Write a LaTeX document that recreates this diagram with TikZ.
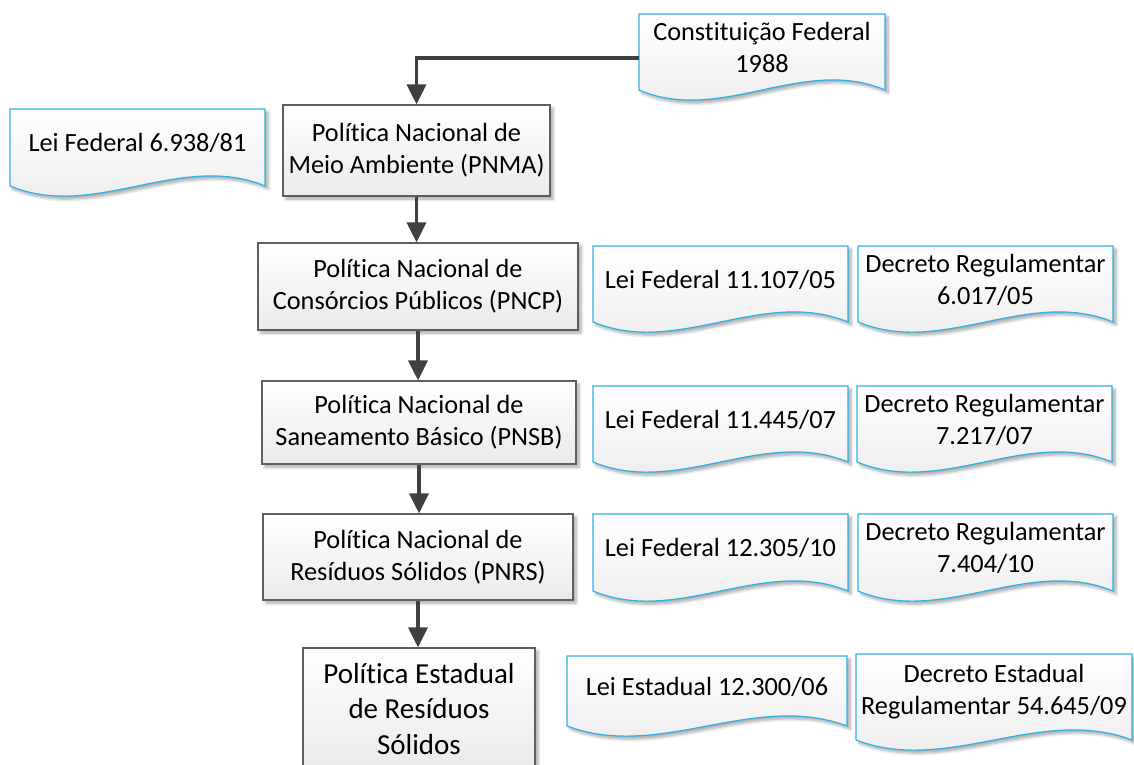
\documentclass[tikz,border=0pt]{standalone}
\usepackage{fontspec}
\setmainfont[Ligatures=NoCommon,Contextuals=NoAlternate,RawFeature=-dlig]{Carlito}
\usetikzlibrary{arrows.meta,shadows.blur}

\definecolor{docblue}{RGB}{45,178,232}
\definecolor{boxline}{RGB}{95,95,95}
\definecolor{flowgray}{RGB}{64,64,64}
\definecolor{fillbottom}{RGB}{234,234,234}

\newcommand\bodyfont{\fontsize{26.3pt}{32pt}\selectfont}
\newcommand\bigbodyfont{\fontsize{29pt}{35.5pt}\selectfont}

\tikzset{
  softshadow/.style={blur shadow={shadow xshift=3pt, shadow yshift=-3pt,
      shadow blur radius=3pt, shadow blur steps=6, shadow opacity=35}},
  lawbox/.style={draw=boxline, line width=1.2pt, top color=white,
      bottom color=fillbottom, softshadow, inner sep=0pt, align=center,
      font=\bodyfont},
  docbody/.style={draw=docblue, line width=1.2pt, top color=white,
      bottom color=fillbottom, softshadow},
  doctext/.style={inner sep=0pt, align=center, font=\bodyfont},
  flow/.style={draw=flowgray, line width=3.3pt,
      -{Triangle[length=20pt,width=19pt]}},
}

% document shape with a wavy bottom edge:
% #1 name, #2 left, #3 top, #4 right, #5 bottom of the side edges, #6 text
\newcommand\docshape[6]{%
  \path[docbody] (#2,#3) -- (#4,#3) -- (#4,#5)
    .. controls ({#4-(#4-#2)/3},{#5-35}) and ({#2+(#4-#2)/3},{#5+35}) .. (#2,#5)
    -- cycle;
  \node[doctext, minimum width={(#4-#2)*1pt}] (#1)
    at ({(#2+#4)/2},{#3+0.44*(#5-#3)}) {#6};
}

\begin{document}
\begin{tikzpicture}[x=1pt,y=-1pt]
  \useasboundingbox (0,0) rectangle (1134,764);
  \clip (0,0) rectangle (1134,764);

  % legal sources
  \docshape{cf}{639}{14}{885}{90}{Constituição Federal\\1988}
  \docshape{lei6938}{10}{109}{265}{186}{Lei Federal 6.938/81}
  \docshape{lei11107}{593}{246}{848}{322}{Lei Federal 11.107/05}
  \docshape{dec6017}{858}{246}{1113}{322}{Decreto Regulamentar\\6.017/05}
  \docshape{lei11445}{593}{386}{848}{462}{Lei Federal 11.445/07}
  \docshape{dec7217}{857}{386}{1112}{462}{Decreto Regulamentar\\7.217/07}
  \docshape{lei12305}{593}{514}{848}{591}{Lei Federal 12.305/10}
  \docshape{dec7404}{858}{514}{1113}{591}{Decreto Regulamentar\\7.404/10}
  \docshape{lei12300}{567}{656}{847}{726}{Lei Estadual 12.300/06}
  \docshape{dec54645}{856}{654}{1132}{740}{Decreto Estadual\\Regulamentar 54.645/09}

  % policies
  \node[lawbox, minimum width=267pt, minimum height=91pt] (pnma) at (416.5,150.5)
    {Política Nacional de\\Meio Ambiente (PNMA)};
  \node[lawbox, minimum width=320pt, minimum height=87pt] (pncp) at (418,286.5)
    {Política Nacional de\\Consórcios Públicos (PNCP)};
  \node[lawbox, minimum width=314pt, minimum height=83pt] (pnsb) at (419,422.5)
    {Política Nacional de\\Saneamento Básico (PNSB)};
  \node[lawbox, minimum width=310pt, minimum height=86pt] (pnrs) at (418,557)
    {Política Nacional de\\Resíduos Sólidos (PNRS)};
  \node[lawbox, minimum width=232pt, minimum height=122pt, font=\bigbodyfont] (pers) at (419,709)
    {Política Estadual\\de Resíduos\\Sólidos};

  % connectors
  \draw[flow] ([yshift=-10.5pt]cf.west) -| (pnma.north);
  \draw[flow] (pnma.south) -- (pnma.south |- pncp.north);
  \draw[flow] (pncp.south) -- (pncp.south |- pnsb.north);
  \draw[flow] (pnsb.south) -- (pnsb.south |- pnrs.north);
  \draw[flow] (pnrs.south) -- (pnrs.south |- pers.north);
\end{tikzpicture}
\end{document}
